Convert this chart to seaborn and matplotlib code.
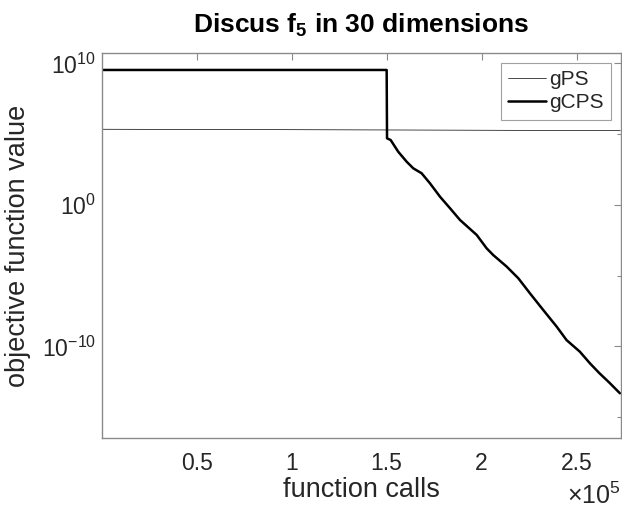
import numpy as np
import pandas as pd
import matplotlib
matplotlib.use("Agg")
import matplotlib.pyplot as plt
import matplotlib.ticker as mticker
import matplotlib.transforms as mtransforms
import seaborn as sns

# ---- data ----
gps_calls = [0, 100000, 200000, 273000]
gps_log10 = [5.34, 5.31, 5.27, 5.24]

gcps_calls = [0, 150000, 150200, 152100, 156100, 160500, 164000, 168400, 172800,
              178100, 183400, 188600, 197400, 202600, 206100, 213200, 219300,
              225400, 232400, 239500, 244700, 251700, 257000, 262000, 267100,
              272800]
gcps_log10 = [9.53, 9.53, 4.70, 4.58, 3.75, 3.05, 2.58, 2.23, 1.52,
              0.57, -0.25, -1.07, -2.13, -3.07, -3.55, -4.37, -5.19,
              -6.25, -7.43, -8.61, -9.56, -10.38, -11.20, -11.90, -12.55,
              -13.32]

series_names = ["gPS", "gCPS"]
title_text = "Discus f$_\\mathbf{5}$ in 30 dimensions"
xlabel_text = "function calls"
ylabel_text = "objective function value"

df = pd.concat([
    pd.DataFrame({"calls": gps_calls, "value": np.power(10.0, gps_log10), "alg": series_names[0]}),
    pd.DataFrame({"calls": gcps_calls, "value": np.power(10.0, gcps_log10), "alg": series_names[1]}),
], ignore_index=True)

sns.set_theme(style="white")
plt.rcParams["font.family"] = ["Liberation Sans", "DejaVu Sans"]
plt.rcParams["mathtext.fontset"] = "custom"
plt.rcParams["mathtext.rm"] = "Liberation Sans"
plt.rcParams["mathtext.it"] = "Liberation Sans:italic"
plt.rcParams["mathtext.bf"] = "Liberation Sans:bold"

W, H = 622, 511
fig = plt.figure(figsize=(W / 100, H / 100), dpi=100)
ax_l, ax_r, ax_t, ax_b = 101.7, 620.7, 52.7, 438.3
ax = fig.add_axes([ax_l / W, 1 - ax_b / H, (ax_r - ax_l) / W, (ax_b - ax_t) / H])

sns.lineplot(data=df, x="calls", y="value", hue="alg", size="alg",
             palette={"gPS": "#000000", "gCPS": "#000000"},
             sizes={"gPS": 0.5, "gCPS": 1.8}, ax=ax, estimator=None,
             sort=False, legend=True)

ax.set_yscale("log")
ax.set_xlim(0, 273200)
ax.set_ylim(10 ** -16.5, 10 ** 10.75)

ax.xaxis.set_major_locator(mticker.FixedLocator([50000, 100000, 150000, 200000, 250000]))
ax.xaxis.set_major_formatter(mticker.FuncFormatter(lambda v, p: f"{v / 1e5:g}"))
ax.yaxis.set_major_locator(mticker.FixedLocator([1e-10, 1e0, 1e10]))
ax.yaxis.set_minor_locator(mticker.FixedLocator([1e-15, 1e-5, 1e5]))
ax.yaxis.set_minor_formatter(mticker.NullFormatter())
ax.yaxis.set_major_formatter(mticker.LogFormatterSciNotation())

axis_col = "#8a8a8a"
for s in ax.spines.values():
    s.set_color(axis_col)
    s.set_linewidth(1.0)
    s.set_visible(True)
ax.tick_params(axis="both", which="both", direction="in", top=True, right=True,
               color=axis_col, labelcolor="#262626", width=0.8)
ax.tick_params(axis="both", which="major", length=5, labelsize=16.5)
ax.tick_params(axis="both", which="minor", length=3)
ax.tick_params(axis="x", pad=10)
ax.tick_params(axis="y", pad=4)

ax.set_xlabel(xlabel_text, fontsize=19.5, color="#262626")
ax.set_ylabel(ylabel_text, fontsize=19.5, color="#262626")
ax.xaxis.set_label_coords(0.5, (ax_b - 477) / (ax_b - ax_t))
ax.yaxis.set_label_coords((30.7 - ax_l) / (ax_r - ax_l), 0.5)
ax.set_title(title_text, fontsize=19, fontweight="bold", color="black", pad=14)

ax.text(1.0, 7 / H, "$\\times10^{5}$",
        transform=mtransforms.blended_transform_factory(ax.transAxes, fig.transFigure),
        ha="right", va="baseline", fontsize=18, color="#262626")

handles, labels = ax.get_legend_handles_labels()
leg = ax.legend(handles=handles, labels=labels, loc="upper right",
                bbox_to_anchor=((611 - ax_l) / (ax_r - ax_l), (ax_b - 63) / (ax_b - ax_t)),
                borderaxespad=0, fontsize=15, frameon=True, fancybox=False,
                edgecolor=axis_col, handlelength=1.8, handletextpad=0.15,
                borderpad=0.35, labelspacing=0.2)
leg.get_frame().set_linewidth(0.8)

fig.savefig("out.png", dpi=100)
